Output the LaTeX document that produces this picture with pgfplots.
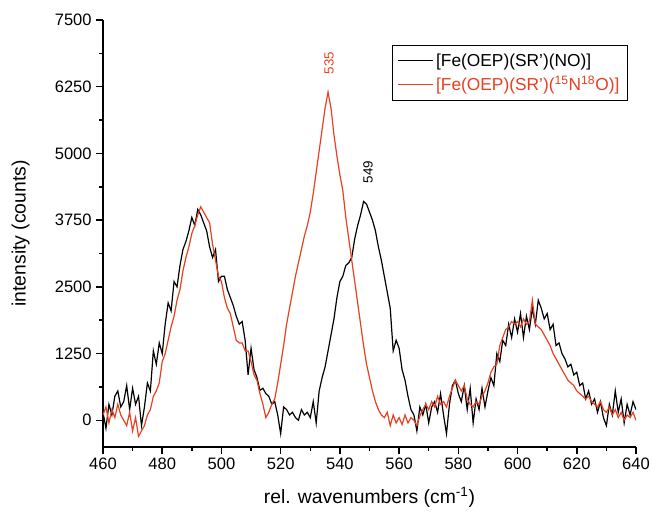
\documentclass[border=0pt]{standalone}
\usepackage{pgfplots}
\pgfplotsset{compat=1.18}
\usepackage{pgfplotstable}
\usepackage{fontspec}
\setmainfont{Liberation Sans}
\definecolor{fered}{RGB}{232,64,32}

% x  NO  15N18O
\pgfplotstableread{
x no lab
460 150 100
461 -150 250
462 300 -50
463 100 200
464 450 50
465 550 300
466 250 100
467 350 0
468 650 -100
469 200 150
470 600 -200
471 300 50
472 450 -300
473 -100 -200
474 250 -100
475 700 100
476 550 200
477 1300 450
478 1050 550
479 1450 700
480 1250 1100
481 1800 1250
482 2200 1500
483 2050 1750
484 2600 1950
485 2500 2250
486 2900 2450
487 3200 2800
488 3350 3050
489 3550 3250
490 3800 3500
491 3650 3650
492 3950 3850
493 3850 4000
494 3700 3900
495 3550 3800
496 3250 3700
497 3050 3300
498 3200 3000
499 2600 2700
500 2700 2600
501 2700 2300
502 2450 2100
503 2300 2000
504 2150 1750
505 1950 1500
506 1800 1450
507 1850 1450
508 1500 1300
509 850 1300
510 1350 1100
511 950 850
512 800 750
513 560 500
514 600 300
515 500 50
516 450 150
517 300 300
518 350 400
519 100 700
520 -250 1050
521 250 1400
522 200 1800
523 100 2100
524 150 2400
525 50 2700
526 0 2950
527 200 3200
528 100 3450
529 150 3650
530 50 3900
531 350 4250
532 -50 4650
533 550 5050
534 800 5450
535 1000 5850
536 1300 6150
537 1600 5850
538 1900 5350
539 2300 4950
540 2600 4600
541 2700 4300
542 2900 3800
543 2950 3400
544 3050 3000
545 3400 2600
546 3650 2200
547 3850 1800
548 4100 1400
549 4050 1050
550 3900 800
551 3750 550
552 3550 350
553 3250 200
554 3000 100
555 2700 50
556 2400 150
557 2100 -100
558 1300 100
559 1500 -50
560 1350 50
561 950 -80
562 750 100
563 450 -50
564 200 50
565 100 0
566 -200 -100
567 250 80
568 100 200
569 300 300
570 -50 200
571 250 350
572 350 250
573 150 450
574 500 300
575 100 350
576 -250 250
577 300 450
578 650 600
579 750 750
580 500 650
581 350 550
582 650 650
583 200 400
584 600 300
585 -50 250
586 400 350
587 200 300
588 600 450
589 250 550
590 550 700
591 800 900
592 650 1000
593 1250 1050
594 1100 1400
595 1500 1550
596 1400 1700
597 1800 1750
598 1550 1850
599 1900 1800
600 1650 1850
601 2000 1750
602 1550 1900
603 1950 1800
604 1700 1850
605 2100 2250
606 1800 1800
607 2250 1750
608 2100 1700
609 1900 1600
610 2000 1500
611 1700 1400
612 1800 1250
613 1400 1150
614 1450 1050
615 1250 950
616 1150 850
617 1000 750
618 1050 700
619 850 650
620 900 550
621 650 500
622 700 450
623 400 400
624 550 450
625 300 350
626 400 300
627 150 250
628 350 350
629 50 200
630 -100 150
631 300 250
632 100 100
633 550 200
634 150 50
635 400 150
636 -50 0
637 300 100
638 100 50
639 350 150
640 200 0
}\spectra

\begin{document}
\begin{tikzpicture}
\begin{axis}[
    name=ax,
    scale only axis,
    width=399.75pt, height=320.25pt,
    xmin=460, xmax=640,
    ymin=-500, ymax=7500,
    axis x line*=bottom,
    axis y line*=left,
    axis line style={line width=1.4pt},
    tick align=outside,
    major tick length=5pt,
    minor tick length=2.8pt,
    every tick/.style={black, line width=1.1pt},
    xtick={460,480,...,640},
    ytick={0,1250,2500,3750,5000,6250,7500},
    minor x tick num=1,
    minor y tick num=1,
    scaled y ticks=false,
    /pgf/number format/1000 sep={},
    /pgf/number format/assume math mode=true,
    tick label style={font=\fontsize{12.4}{14}\selectfont},
    xlabel={rel. wavenumbers (cm\textsuperscript{-1})},
    ylabel={intensity (counts)},
    label style={font=\fontsize{14.5}{17}\selectfont},
    xlabel style={yshift=-6pt},
    ylabel style={yshift=12pt},
    legend cell align=left,
    legend style={at={(1,1)}, anchor=north east, xshift=-6pt, yshift=-18.75pt,
        draw=black, line width=0.8pt, font=\fontsize{13}{15}\selectfont,
        inner xsep=4pt, inner ysep=4pt, row sep=2pt},
    legend image code/.code={\draw[#1, line width=1pt] (0pt,0pt) -- (26pt,0pt);},
]
\addplot[black, line width=0.9pt] table[x=x, y=no] {\spectra};
\addlegendentry{[Fe(OEP)(SR')(NO)]}
\addplot[fered, line width=0.9pt] table[x=x, y=lab] {\spectra};
\addlegendentry{\textcolor{fered}{[Fe(OEP)(SR')(\textsuperscript{15}N\textsuperscript{18}O)]}}
\node[rotate=90, font=\fontsize{10}{12}\selectfont, text=black] at (axis cs:549.5,4650) {549};
\node[rotate=90, font=\fontsize{10}{12}\selectfont, text=fered] at (axis cs:536.3,6690) {535};
\end{axis}
\pgfresetboundingbox
\path ([xshift=-77.25pt,yshift=-51.75pt]ax.south west) rectangle ([xshift=12.75pt,yshift=15pt]ax.north east);
\end{tikzpicture}
\end{document}
